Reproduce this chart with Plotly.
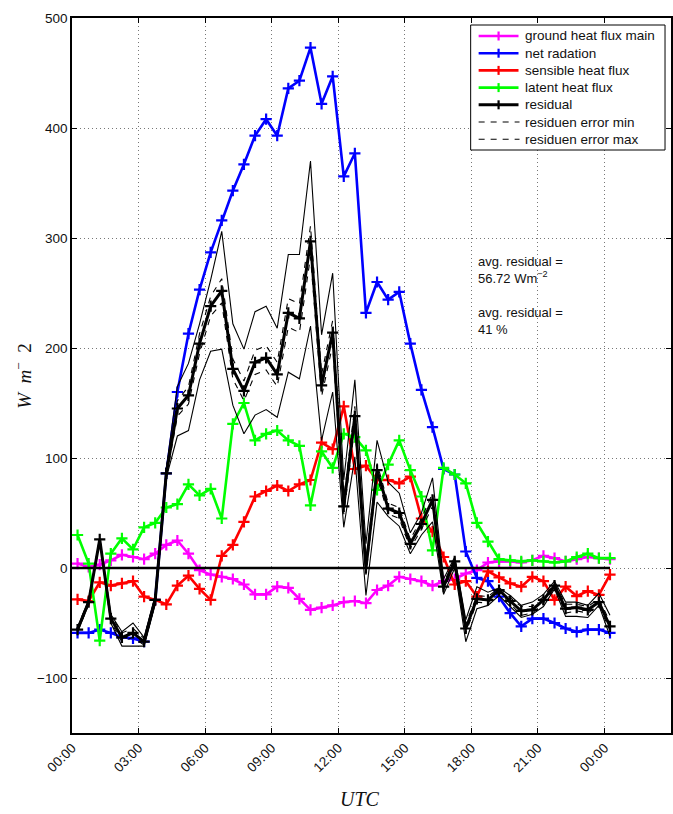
import plotly.graph_objects as go

# Half-hourly sample times (hours since 00:00 UTC of day 1)
hours = [0.25, 0.75, 1.25, 1.75, 2.25, 2.75, 3.25, 3.75, 4.25, 4.75,
         5.25, 5.75, 6.25, 6.75, 7.25, 7.75, 8.25, 8.75, 9.25, 9.75,
         10.25, 10.75, 11.25, 11.75, 12.25, 12.75, 13.25, 13.75, 14.25, 14.75,
         15.25, 15.75, 16.25, 16.75, 17.25, 17.75, 18.25, 18.75, 19.25, 19.75,
         20.25, 20.75, 21.25, 21.75, 22.25, 22.75, 23.25, 23.75, 24.25]

# Energy balance components, W m-2
ground_heat_flux = [4, 1, 3, 7, 12, 10, 8, 13, 21, 25,
                    13, -2, -6, -8, -10, -15, -24, -24, -17, -18,
                    -28, -38, -36, -34, -31, -30, -32, -20, -16, -8,
                    -10, -12, -16, -12, -10, -5, -2, 5, 6, 6,
                    5, 7, 11, 9, 6, 8, 10, 9, 8]
net_radiation = [-59, -59, -56, -59, -63, -64, -67, -29, 86, 160,
                 213, 253, 287, 316, 343, 367, 393, 408, 393, 436,
                 443, 473, 422, 447, 356, 377, 232, 260, 244, 251,
                 204, 162, 128, 90, 85, 15, -9, -12, -26, -41,
                 -53, -46, -46, -50, -55, -58, -56, -56, -59]
sensible_heat = [-28.5, -30, -13, -16, -14, -12, -26, -29, -33, -16,
                 -7, -19, -29, 11, 21, 42, 65, 70, 75, 70,
                 76, 80, 114, 108, 147, 90, 93, 80, 80, 77,
                 83, 45, 33, 10, -15, -12, -26, -3, -8.5, -14,
                 -17, -8, -12, -29, -17, -25.5, -21, -24.5, -6]
latent_heat = [30, 4, -66, 13, 27, 17, 37, 41, 55, 58,
               76, 66, 72, 45, 131, 150, 116, 122, 125, 116,
               111, 57, 106, 91, 122, 119, 107, 71, 94, 116,
               89, 65, 16, 91, 85, 77, 41, 24, 8, 7,
               6, 7, 6, 5, 6, 10, 13, 9, 9]
residual = [-56, -31, 26, -46, -63, -59, -67, -29, 86, 145,
            157, 204, 238, 252, 181, 161, 187, 191, 176, 232,
            227, 297, 166, 214, 56, 138, 0, 89, 54, 50,
            22, 40, 62, -17, 6, -55, -28, -29, -20, -30,
            -39, -38, -29, -16, -37, -36, -38, -31, -53]
residual_err_max = [-54, -29, 28, -43, -59, -55, -64, -26, 90, 152,
                    165, 213, 247, 263, 190, 170, 198, 202, 187, 245,
                    240, 311, 176, 225, 63, 147, 6, 95, 59, 55,
                    26, 45, 68, -14, 9, -51, -25, -26, -18, -27,
                    -35, -35, -26, -14, -33, -33, -35, -28, -49]
residual_err_min = [-58, -33, 24, -49, -67, -63, -70, -32, 82, 138,
                    149, 195, 229, 241, 172, 152, 176, 180, 165, 219,
                    214, 283, 156, 203, 49, 129, -6, 83, 49, 45,
                    18, 35, 56, -20, 3, -59, -31, -32, -22, -33,
                    -43, -41, -32, -18, -41, -39, -41, -34, -57]
# Residual computed with the alternative ground heat flux sensors
residual_alt_high = [-54, -29, 27, -42, -58, -50, -63, -25, 90, 165,
                     186, 222, 262, 306, 222, 199, 233, 238, 218, 285,
                     285, 370, 212, 268, 80, 171, 22, 116, 78, 68,
                     32, 50, 82, -10, 10, -47, -17, -22, -18, -25,
                     -34, -31, -24, -12, -31, -31, -34, -23, -43]
residual_alt_low = [-58, -33, 25, -50, -71, -71, -71, -33, 82, 120,
                    125, 171, 197, 199, 148, 122, 139, 144, 137, 178,
                    172, 220, 116, 160, 37, 101, -25, 60, 47, 38,
                    13, 30, 42, -24, 0, -67, -37, -34, -25, -35,
                    -45, -42, -35, -19, -44, -44, -45, -34, -62]

zero_x = [0, 24.25]
zero_y = [0, 0]

tick_hours = [0, 3, 6, 9, 12, 15, 18, 21, 24, 27]
tick_text = ["00:00", "03:00", "06:00", "09:00", "12:00", "15:00",
             "18:00", "21:00", "00:00", "03:00"]
y_ticks = [-100, 0, 100, 200, 300, 400, 500]

legend_names = ["ground heat flux main", "net radation", "sensible heat flux",
                "latent heat flux", "residual", "residuen error min",
                "residuen error max"]
legend_colors = ["#FF00FF", "#0000FF", "#FF0000", "#00FF00", "#000000",
                 "#000000", "#000000"]
legend_dashed = [False, False, False, False, False, True, True]

# Figure geometry in pixels
FIG_W, FIG_H = 673, 814
M_L, M_R, M_T, M_B = 72, 0, 18, 81
PLOT_W = FIG_W - M_L - M_R
PLOT_H = FIG_H - M_T - M_B


def px_x(px):
    return (px - M_L) / PLOT_W


def px_y(py):
    return (FIG_H - M_B - py) / PLOT_H


FONT_SANS = "Liberation Sans, Arial, sans-serif"
LINE_W = 2.6
MARK_SIZE = 8
MARK_LW = 2.2

fig = go.Figure()


def flux_trace(values, name, color, width=LINE_W):
    return go.Scatter(
        x=hours, y=values, name=name, mode="lines+markers", showlegend=False,
        line=dict(color=color, width=width),
        marker=dict(symbol="cross-thin", size=MARK_SIZE,
                    line=dict(width=MARK_LW, color=color), color=color),
    )


fig.add_trace(flux_trace(ground_heat_flux, legend_names[0], legend_colors[0]))
fig.add_trace(flux_trace(net_radiation, legend_names[1], legend_colors[1]))
fig.add_trace(flux_trace(sensible_heat, legend_names[2], legend_colors[2]))
fig.add_trace(flux_trace(latent_heat, legend_names[3], legend_colors[3]))

# Zero reference line
fig.add_trace(go.Scatter(x=zero_x, y=zero_y, mode="lines", showlegend=False,
                         line=dict(color="black", width=2.6), hoverinfo="skip"))

# Envelope from the alternative ground heat flux sensors
for vals in (residual_alt_high, residual_alt_low):
    fig.add_trace(go.Scatter(x=hours, y=vals, mode="lines", showlegend=False,
                             line=dict(color="black", width=1.1)))

fig.add_trace(flux_trace(residual, legend_names[4], legend_colors[4], width=3.0))

fig.add_trace(go.Scatter(x=hours, y=residual_err_min, name=legend_names[5],
                         mode="lines", showlegend=False,
                         line=dict(color="black", width=1.1, dash="6px,6px")))
fig.add_trace(go.Scatter(x=hours, y=residual_err_max, name=legend_names[6],
                         mode="lines", showlegend=False,
                         line=dict(color="black", width=1.1, dash="6px,6px")))

axis_common = dict(
    showline=True, linecolor="black", linewidth=1.6, mirror="ticks",
    ticks="inside", ticklen=5, tickcolor="black", tickwidth=1,
    showgrid=True, gridcolor="#777777", griddash="1px,3px", gridwidth=1,
    zeroline=False,
    tickfont=dict(family=FONT_SANS, size=13.5, color="#111"),
)

fig.update_xaxes(range=[0, 27], tickvals=tick_hours, ticktext=tick_text,
                 tickangle=-45, **axis_common)
fig.update_yaxes(range=[-150, 500], tickvals=y_ticks, **axis_common)

# Legend box drawn in the upper right corner of the axes
shapes = [dict(type="rect", xref="paper", yref="paper",
               x0=px_x(472), x1=px_x(667), y0=px_y(150), y1=px_y(25),
               line=dict(color="black", width=1), fillcolor="white", layer="above")]
annotations = []
for k, (name, color, dashed) in enumerate(zip(legend_names, legend_colors, legend_dashed)):
    row_y = 36 + 17.2 * k
    if dashed:
        shapes.append(dict(type="line", xref="paper", yref="paper",
                           x0=px_x(480), x1=px_x(521), y0=px_y(row_y), y1=px_y(row_y),
                           line=dict(color=color, width=1.1, dash="6px,6px")))
    else:
        shapes.append(dict(type="line", xref="paper", yref="paper",
                           x0=px_x(480), x1=px_x(520), y0=px_y(row_y), y1=px_y(row_y),
                           line=dict(color=color, width=3.0 if k == 4 else LINE_W)))
        shapes.append(dict(type="line", xref="paper", yref="paper",
                           x0=px_x(500), x1=px_x(500), y0=px_y(row_y - 4.5), y1=px_y(row_y + 4.5),
                           line=dict(color=color, width=MARK_LW)))
    annotations.append(dict(xref="paper", yref="paper", x=px_x(525), y=px_y(row_y),
                            text=name, showarrow=False, xanchor="left", yanchor="middle",
                            font=dict(family=FONT_SANS, size=13.5, color="#111")))

annotations += [
    dict(xref="paper", yref="paper", x=-0.083, y=0.5,
         text="<i>W</i>  <i>m</i><sup>−</sup>  2", textangle=-90,
         showarrow=False, xanchor="center", yanchor="middle",
         font=dict(family="Liberation Serif, serif", size=19, color="#111")),
    dict(xref="paper", yref="paper", x=0.48, y=-0.093,
         text="<i>UTC</i>", showarrow=False, xanchor="center", yanchor="middle",
         font=dict(family="Liberation Serif, serif", size=20, color="#111")),
    dict(x=18.2, y=271, xref="x", yref="y", showarrow=False,
         xanchor="left", yanchor="middle", align="left",
         text="avg. residual =<br>56.72 Wm<sup>−2</sup>",
         font=dict(family=FONT_SANS, size=13, color="#111")),
    dict(x=18.2, y=225, xref="x", yref="y", showarrow=False,
         xanchor="left", yanchor="middle", align="left",
         text="avg. residual =<br>41 %",
         font=dict(family=FONT_SANS, size=13, color="#111")),
]

fig.update_layout(
    width=FIG_W, height=FIG_H, autosize=False,
    margin=dict(l=M_L, r=M_R, t=M_T, b=M_B),
    paper_bgcolor="white", plot_bgcolor="white",
    showlegend=False,
    shapes=shapes, annotations=annotations,
)

fig.write_html("out.html")
